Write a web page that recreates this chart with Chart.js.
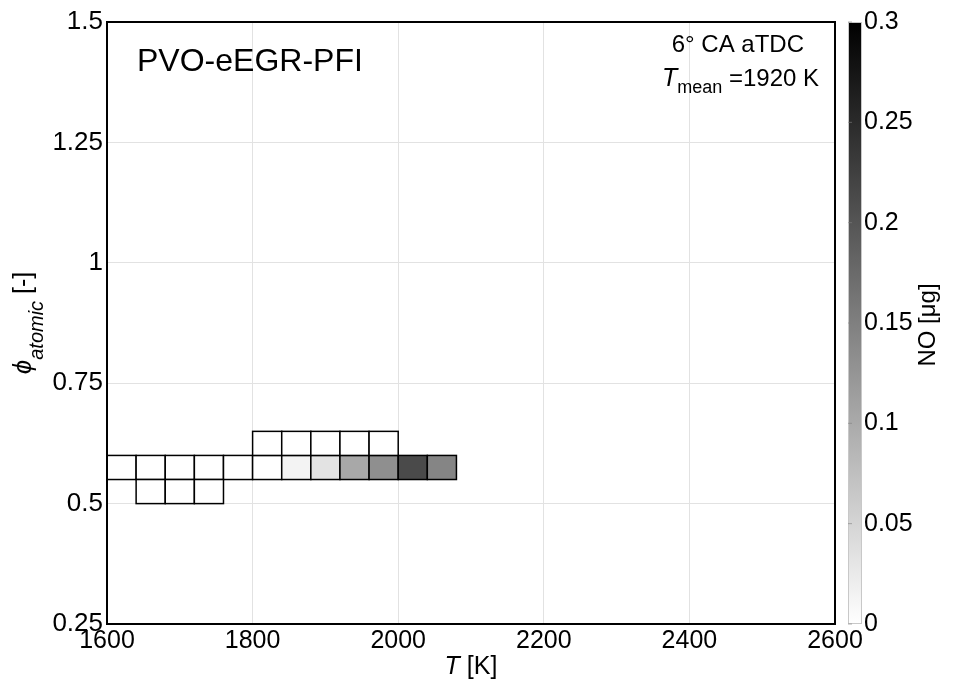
<!DOCTYPE html>
<html>
<head>
<meta charset="utf-8">
<script src="https://cdn.jsdelivr.net/npm/chart.js@4"></script>
<style>
  html, body { margin: 0; padding: 0; background: #fff; }
  #wrap { width: 953px; height: 688px; }
</style>
</head>
<body>
<div id="wrap"><canvas id="noChart" width="953" height="688"></canvas></div>
<script>
// bin lower-left corners (T in K, phi in -) and NO mass per bin (ug)
const cellT   = [1600, 1640, 1680, 1720, 1760, 1800, 1840, 1880, 1920, 1960, 2000, 2040,
                 1640, 1680, 1720,
                 1800, 1840, 1880, 1920, 1960];
const cellPhi = [0.55, 0.55, 0.55, 0.55, 0.55, 0.55, 0.55, 0.55, 0.55, 0.55, 0.55, 0.55,
                 0.50, 0.50, 0.50,
                 0.60, 0.60, 0.60, 0.60, 0.60];
const cellNO  = [0, 0, 0, 0, 0, 0, 0.014, 0.033, 0.102, 0.132, 0.213, 0.144,
                 0, 0, 0,
                 0, 0, 0, 0, 0];
const binT = 40;
const binPhi = 0.05;

const xTicks = [1600, 1800, 2000, 2200, 2400, 2600];
const yTicks = [0.25, 0.5, 0.75, 1, 1.25, 1.5];
const noTicks = [0, 0.05, 0.1, 0.15, 0.2, 0.25, 0.3];
const noMax = 0.3;

const FONT = "'Liberation Sans', Arial, sans-serif";

function grayFor(v) {
    const g = Math.round(255 * (1 - Math.min(v, noMax) / noMax));
    return 'rgb(' + g + ',' + g + ',' + g + ')';
}

// no extra room for label overhang, the frame is placed by layout padding
function noPad(s) {
    s.paddingTop = 0;
    s.paddingBottom = 0;
    s.paddingLeft = 0;
    s.paddingRight = 0;
}

const heatPlugin = {
    id: 'heat',
    beforeDatasetsDraw(chart) {
        const ctx = chart.ctx;
        const x = chart.scales.x, y = chart.scales.y;
        ctx.save();
        ctx.lineWidth = 1.5;
        ctx.strokeStyle = '#000';
        for (let i = 0; i < cellT.length; i++) {
            const x0 = x.getPixelForValue(cellT[i]);
            const x1 = x.getPixelForValue(cellT[i] + binT);
            const y0 = y.getPixelForValue(cellPhi[i]);
            const y1 = y.getPixelForValue(cellPhi[i] + binPhi);
            ctx.fillStyle = grayFor(cellNO[i]);
            ctx.fillRect(x0, y1, x1 - x0, y0 - y1);
            ctx.strokeRect(x0, y1, x1 - x0, y0 - y1);
        }
        ctx.restore();
    },
    afterDraw(chart) {
        const ctx = chart.ctx;
        const a = chart.chartArea;
        const c = chart.scales.c;
        ctx.save();

        // axes box
        ctx.strokeStyle = '#000';
        ctx.lineWidth = 2;
        ctx.strokeRect(a.left, a.top, a.right - a.left, a.bottom - a.top);

        // colorbar
        const cbL = c.left + 13, cbW = 14;
        const top = c.getPixelForValue(noMax), bot = c.getPixelForValue(0);
        const grad = ctx.createLinearGradient(0, bot, 0, top);
        grad.addColorStop(0, '#ffffff');
        grad.addColorStop(1, '#000000');
        ctx.fillStyle = grad;
        ctx.fillRect(cbL, top, cbW, bot - top);
        ctx.strokeStyle = '#c8c8c8';
        ctx.lineWidth = 1;
        ctx.strokeRect(cbL + 0.5, top + 0.5, cbW - 1, bot - top - 1);
        ctx.strokeStyle = 'rgba(128,128,128,0.6)';
        noTicks.forEach(v => {
            const py = c.getPixelForValue(v);
            ctx.beginPath();
            ctx.moveTo(cbL, py);
            ctx.lineTo(cbL + 4, py);
            ctx.stroke();
        });

        ctx.fillStyle = '#000';
        ctx.textBaseline = 'alphabetic';

        // colorbar title, reading bottom to top
        ctx.save();
        ctx.translate(935, (top + bot) / 2 + 2);
        ctx.rotate(-Math.PI / 2);
        ctx.font = '24px ' + FONT;
        ctx.textAlign = 'center';
        ctx.fillText('NO [\u03bcg]', 0, 0);
        ctx.restore();

        // panel title
        ctx.textAlign = 'left';
        ctx.font = '32px ' + FONT;
        ctx.fillText('PVO-eEGR-PFI', 137, 71);

        // crank angle and mean temperature
        ctx.textAlign = 'right';
        ctx.font = '24px ' + FONT;
        ctx.fillText('6\u00b0 CA aTDC', 804, 52);
        ctx.textAlign = 'left';
        const p1 = 'T', p2 = 'mean', p3 = ' =1920 K';
        ctx.font = 'italic 25px ' + FONT;
        const w1 = ctx.measureText(p1).width;
        ctx.font = '18px ' + FONT;
        const w2 = ctx.measureText(p2).width;
        ctx.font = '24px ' + FONT;
        const w3 = ctx.measureText(p3).width;
        let px = 819 - (w1 + w2 + w3);
        ctx.font = 'italic 25px ' + FONT;
        ctx.fillText(p1, px, 86); px += w1;
        ctx.font = '18px ' + FONT;
        ctx.fillText(p2, px, 93); px += w2;
        ctx.font = '24px ' + FONT;
        ctx.fillText(p3, px, 86);

        // x axis title
        ctx.font = 'italic 25px ' + FONT;
        const tw = ctx.measureText('T').width;
        ctx.font = '25px ' + FONT;
        const kw = ctx.measureText(' [K]').width;
        let tx = (a.left + a.right) / 2 - (tw + kw) / 2;
        ctx.font = 'italic 25px ' + FONT;
        ctx.fillText('T', tx, 674);
        ctx.font = '25px ' + FONT;
        ctx.fillText(' [K]', tx + tw, 674);

        // y axis title, reading bottom to top
        ctx.save();
        ctx.translate(31, (a.top + a.bottom) / 2);
        ctx.rotate(-Math.PI / 2);
        const s1 = '\u03d5', s2 = 'atomic', s3 = ' [-]';
        ctx.font = 'italic 26px ' + FONT;
        const v1 = ctx.measureText(s1).width;
        ctx.font = 'italic 20px ' + FONT;
        const v2 = ctx.measureText(s2).width;
        ctx.font = '25px ' + FONT;
        const v3 = ctx.measureText(s3).width;
        let qx = -(v1 + v2 + v3) / 2;
        ctx.font = 'italic 26px ' + FONT;
        ctx.fillText(s1, qx, 0); qx += v1;
        ctx.font = 'italic 20px ' + FONT;
        ctx.fillText(s2, qx, 12); qx += v2;
        ctx.font = '25px ' + FONT;
        ctx.fillText(s3, qx, 0);
        ctx.restore();

        ctx.restore();
    }
};

const ctx = document.getElementById('noChart').getContext('2d');
new Chart(ctx, {
    type: 'scatter',
    data: {
        datasets: [{
            label: 'NO',
            data: cellT.map((t, i) => ({ x: t + binT / 2, y: cellPhi[i] + binPhi / 2 })),
            pointRadius: 0,
            pointHoverRadius: 0
        }]
    },
    options: {
        responsive: false,
        animation: false,
        events: [],
        layout: { padding: { top: 22, left: 0, right: 0, bottom: 0 } },
        plugins: {
            legend: { display: false },
            tooltip: { enabled: false }
        },
        scales: {
            x: {
                type: 'linear',
                min: 1600, max: 2600,
                afterFit: s => { s.height = 64; noPad(s); },
                afterBuildTicks: s => { s.ticks = xTicks.map(v => ({ value: v })); },
                grid: { color: '#e2e2e2', drawTicks: false },
                border: { display: false },
                ticks: {
                    color: '#000',
                    padding: 2,
                    maxRotation: 0,
                    font: { family: FONT, size: 25 },
                    callback: v => String(v)
                }
            },
            y: {
                type: 'linear',
                min: 0.25, max: 1.5,
                afterFit: s => { s.width = 107; noPad(s); },
                afterBuildTicks: s => { s.ticks = yTicks.map(v => ({ value: v })); },
                grid: { color: '#e2e2e2', drawTicks: false },
                border: { display: false },
                ticks: {
                    color: '#000',
                    padding: 4,
                    font: { family: FONT, size: 26 },
                    callback: v => String(v)
                }
            },
            c: {
                type: 'linear',
                position: 'right',
                min: 0, max: noMax,
                afterFit: s => { s.width = 118; noPad(s); },
                afterBuildTicks: s => { s.ticks = noTicks.map(v => ({ value: v })); },
                grid: { display: false, drawTicks: false },
                border: { display: false },
                ticks: {
                    color: '#000',
                    padding: 29,
                    font: { family: FONT, size: 25 },
                    callback: v => String(+v.toFixed(2))
                }
            }
        }
    },
    plugins: [heatPlugin]
});
</script>
</body>
</html>
